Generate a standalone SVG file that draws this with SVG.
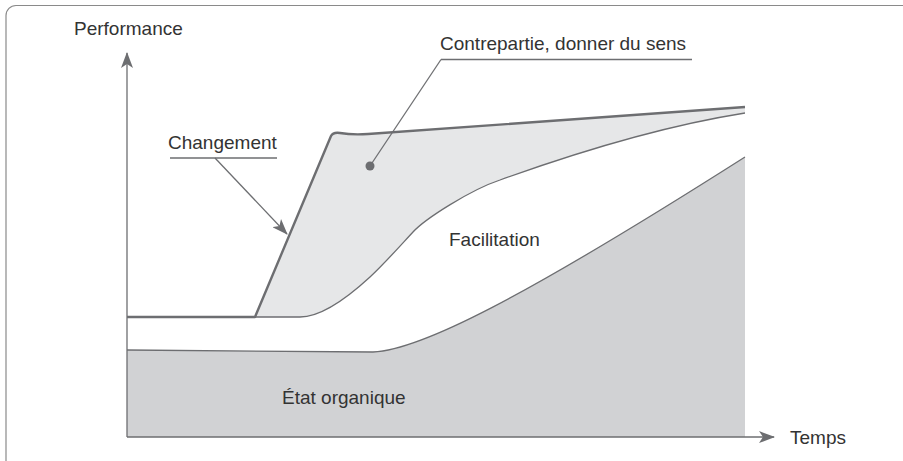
<svg xmlns="http://www.w3.org/2000/svg" width="903" height="461" viewBox="0 0 903 461">
<style>
text{font-family:"Liberation Sans",Arial,sans-serif;font-size:19px;fill:#333}
.ln{fill:none;stroke:#6d6e71;stroke-width:1.3}
.thick{fill:none;stroke:#6d6e71;stroke-width:2.4;stroke-linejoin:round}
</style>
<defs>
<marker id="ah" viewBox="0 0 16 12" refX="15" refY="6" markerWidth="16" markerHeight="12" markerUnits="userSpaceOnUse" orient="auto">
<path d="M0,0 L16,6 L0,12 L4,6 Z" fill="#6d6e71"/>
</marker>
</defs>
<rect id="frame" x="6" y="5.5" width="910" height="470" rx="10" fill="#fff" stroke="#8a8a8a" stroke-width="1.2"/>
<g id="organique">
<path d="M127,350 L373,352 C420,350 520,300 745,157 L745,437 L127,437 Z" fill="#d1d2d4"/>
<path class="ln" d="M127,350 L373,352 C420,350 520,300 745,157"/>
</g>
<g id="contrepartie-zone">
<path d="M255,317 L333,133 Q350,135 368,134 L745,107 L745,113 C650,128 550,162 500,180 C470,190 425,219 413,232 C400,246 385,263 370,277 C345,300 320,317 300,317 Z" fill="#e6e7e8"/>
<path class="ln" d="M745,113 C650,128 550,162 500,180 C470,190 425,219 413,232 C400,246 385,263 370,277 C345,300 320,317 300,317 L255,317"/>
</g>
<g id="changement-line">
<path class="thick" d="M127,317 L255,317 L331,136 Q333,132 340,133 Q352,135 368,134 L745,107"/>
</g>
<g id="connectors">
<line class="ln" x1="127" y1="437" x2="127" y2="53" marker-end="url(#ah)"/>
<line class="ln" x1="127" y1="437" x2="774" y2="437" marker-end="url(#ah)"/>
<line class="ln" x1="215" y1="158" x2="287" y2="234" marker-end="url(#ah)"/>
<line class="ln" x1="170" y1="158" x2="277" y2="158"/>
<line class="ln" x1="441" y1="59.5" x2="692" y2="59.5"/>
<line class="ln" x1="441" y1="59.5" x2="370" y2="166"/>
<circle cx="370" cy="166" r="4.5" fill="#6d6e71"/>
</g>
<g id="labels">
<text x="74" y="34.5">Performance</text>
<text x="168" y="148.5">Changement</text>
<text x="440" y="50">Contrepartie, donner du sens</text>
<text x="449" y="246">Facilitation</text>
<text x="282" y="404">État organique</text>
<text x="790" y="443.5">Temps</text>
</g>
</svg>
